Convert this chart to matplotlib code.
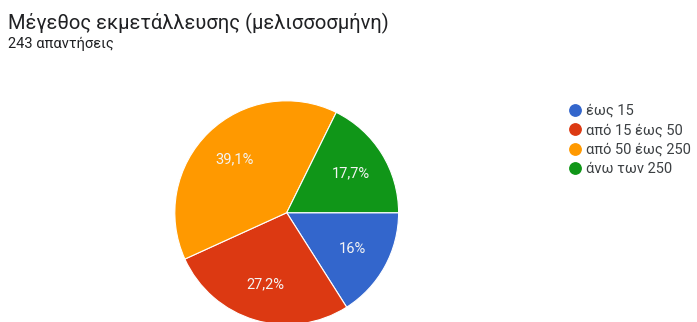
import matplotlib.pyplot as plt
from matplotlib.lines import Line2D

# Δεδομένα
labels = ['έως 15', 'από 15 έως 50', 'από 50 έως 250', 'άνω των 250']
values = [16.0, 27.2, 39.1, 17.7]
colors = ['#3366cc', '#dc3912', '#ff9900', '#109618']
title = 'Μέγεθος εκμετάλλευσης (μελισσοσμήνη)'
subtitle = '243 απαντήσεις'

plt.rcParams['font.family'] = ['Roboto', 'DejaVu Sans']

fig = plt.figure(figsize=(6.97, 3.22), dpi=100)
fig.patch.set_facecolor('white')

# Άξονες της πίτας (κέντρο περίπου στο 287, 213 px)
ax = fig.add_axes([0.2492, -0.0115, 0.3243, 0.7019])


def fmt(p):
    s = f'{p:.1f}'.replace('.', ',')
    if s.endswith(',0'):
        s = s[:-2]
    return s + '%'


wedges, texts, autotexts = ax.pie(
    values, colors=colors, startangle=0, counterclock=False,
    autopct=fmt, pctdistance=0.67,
    wedgeprops=dict(edgecolor='white', linewidth=0.8),
    textprops=dict(color='#f4f4f4', fontsize=10.5))
ax.set_xlim(-1.01, 1.01)
ax.set_ylim(-1.01, 1.01)
for w in wedges:
    w.set_clip_on(False)

fig.text(0.0115, 1 - 29 / 322, title, fontsize=14.5, color='#202124',
         ha='left', va='baseline')
fig.text(0.0115, 1 - 48 / 322, subtitle, fontsize=10.5, color='#202124',
         ha='left', va='baseline')

handles = [Line2D([], [], marker='o', linestyle='', markersize=8.2,
                  markerfacecolor=c, markeredgecolor=c) for c in colors]
fig.legend(handles, labels, loc='upper left',
           bbox_to_anchor=(563 / 697, 1 - 98 / 322), frameon=False,
           fontsize=10.5, labelcolor='#3c4043', handlelength=0.8,
           handletextpad=0.35, labelspacing=0.38, borderaxespad=0)

fig.savefig('out.png', dpi=100, facecolor='white')
